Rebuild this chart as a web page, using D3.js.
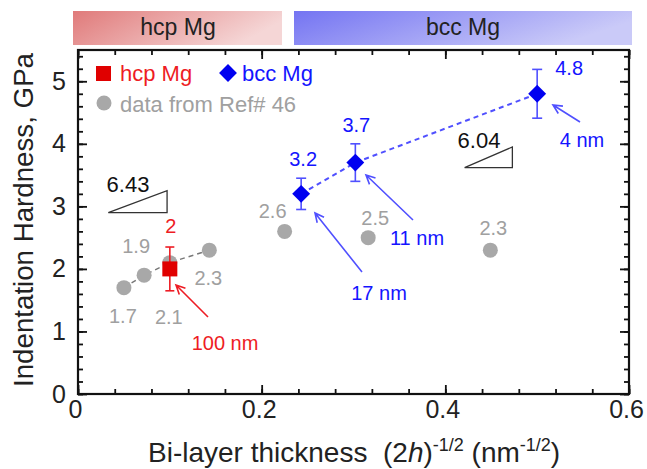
<!DOCTYPE html>
<html lang="en">
<head>
<meta charset="UTF-8">
<title>Indentation hardness vs bi-layer thickness</title>
<script src="https://cdn.jsdelivr.net/npm/d3@7/dist/d3.min.js"></script>
<style>
    body { margin: 0; background: #fff; }
    text { font-family: "Liberation Sans", Arial, sans-serif; }
</style>
</head>
<body>
<div id="chart"></div>
<script>
    // data
    const hcpX = [0.1];
    const hcpY = [2.0];
    const hcpErr = [0.35];
    const hcpLabels = ["2"];

    const bccX = [0.243, 0.302, 0.5];
    const bccY = [3.2, 3.7, 4.8];
    const bccErr = [0.25, 0.3, 0.39];
    const bccLabels = ["3.2", "3.7", "4.8"];

    const refX = [0.05, 0.072, 0.1, 0.143, 0.225, 0.316, 0.449];
    const refY = [1.7, 1.9, 2.1, 2.3, 2.6, 2.5, 2.3];
    const refLabels = ["1.7", "1.9", "2.1", "2.3", "2.6", "2.5", "2.3"];
    const refFit = [0, 1, 2, 3];   // points joined by the dashed grey line

    const xTicks = [0, 0.2, 0.4, 0.6];
    const xTickLabels = ["0", "0.2", "0.4", "0.6"];
    const yTicks = [0, 1, 2, 3, 4, 5];
    const yTickLabels = ["0", "1", "2", "3", "4", "5"];

    const slopeLabels = ["6.43", "6.04"];
    const nmLabels = ["100 nm", "17 nm", "11 nm", "4 nm"];

    // layout
    const W = 647, H = 469;
    const x = d3.scaleLinear().domain([0, 0.6]).range([78, 629]);
    const y = d3.scaleLinear().domain([0, 5.5]).range([394, 50]);

    const RED = "#e00000", RED_T = "#ee1c24";
    const BLUE = "#0000f0", BLUE_T = "#1414ff", BLUE_L = "#5050ff";
    const GREY = "#a8a8a8", GREY_T = "#a0a0a0";

    // label offsets (px) from each point: [dx, dy of baseline]
    const refOff = [[-1, 35], [-8, -22], [-1, 61], [-1, 35], [-12, -13], [7, -13], [3, -15]];
    const hcpOff = [[1, -36]];
    const bccOff = [[2, -28], [1, -31], [32, -19]];

    // slope triangles in data units
    const triangles = [
        {x0: 0.033, x1: 0.097, y0: 2.9, y1: 3.25, lx: 128, ly: 192},
        {x0: 0.421, x1: 0.473, y0: 3.62, y1: 3.95, lx: 479, ly: 148}
    ];

    // arrows: tail (near label) -> head (near point), label position, colour
    const arrows = [
        {t: [208, 317], h: [176, 285], lx: 225, ly: 350, c: RED_T, lc: RED_T},
        {t: [362, 272], h: [315, 213], lx: 379, ly: 300, c: BLUE_L, lc: BLUE_T},
        {t: [413, 220], h: [366, 175], lx: 417, ly: 245, c: BLUE_L, lc: BLUE_T},
        {t: [580, 122], h: [553, 105], lx: 582, ly: 147, c: BLUE_L, lc: BLUE_T}
    ];

    const svg = d3.select("#chart").append("svg")
        .attr("width", W).attr("height", H);

    const defs = svg.append("defs");
    function grad(id, c0, c1) {
        const g = defs.append("linearGradient").attr("id", id)
            .attr("x1", "0%").attr("y1", "0%").attr("x2", "100%").attr("y2", "30%");
        g.append("stop").attr("offset", "0%").attr("stop-color", c0);
        g.append("stop").attr("offset", "100%").attr("stop-color", c1);
    }
    grad("gRed", "#e07a7a", "#f5d6d6");
    grad("gBlue", "#7474f2", "#cacaf8");

    // phase banners
    svg.append("rect").attr("x", 73).attr("y", 11).attr("width", 209).attr("height", 34)
        .attr("fill", "url(#gRed)");
    svg.append("rect").attr("x", 294).attr("y", 11).attr("width", 338).attr("height", 34)
        .attr("fill", "url(#gBlue)");
    svg.append("text").attr("x", 178).attr("y", 35).attr("text-anchor", "middle")
        .attr("font-size", 23).attr("fill", "#222").text("hcp Mg");
    svg.append("text").attr("x", 463).attr("y", 35).attr("text-anchor", "middle")
        .attr("font-size", 23).attr("fill", "#222").text("bcc Mg");

    // axes, ticks pointing inward on all four sides
    function styleAxis(g) {
        g.select(".domain").remove();
        g.selectAll(".tick line").attr("stroke", "#111").attr("stroke-width", 1.8);
        g.selectAll(".tick text").attr("fill", "#222").attr("font-size", 25)
            .attr("font-family", "'Liberation Sans', Arial, sans-serif");
    }
    const xMinor = d3.range(0, 0.6001, 0.04);
    const yMinor = d3.range(0, 5.5001, 0.2);

    svg.append("g").attr("transform", `translate(0,${y(0)})`)
        .call(d3.axisBottom(x).tickValues(xMinor).tickSize(-5).tickFormat("")).call(styleAxis);
    svg.append("g").attr("transform", `translate(0,${y(0)})`)
        .call(d3.axisBottom(x).tickValues(xTicks).tickSize(-9).tickPadding(6)
            .tickFormat((d, i) => xTickLabels[i])).call(styleAxis)
        .selectAll(".tick text").attr("dx", -3);
    svg.append("g").attr("transform", `translate(0,${y(5.5)})`)
        .call(d3.axisTop(x).tickValues(xMinor).tickSize(-5).tickFormat("")).call(styleAxis);
    svg.append("g").attr("transform", `translate(0,${y(5.5)})`)
        .call(d3.axisTop(x).tickValues(xTicks).tickSize(-9).tickFormat("")).call(styleAxis);

    svg.append("g").attr("transform", `translate(${x(0)},0)`)
        .call(d3.axisLeft(y).tickValues(yMinor).tickSize(-5).tickFormat("")).call(styleAxis);
    svg.append("g").attr("transform", `translate(${x(0)},0)`)
        .call(d3.axisLeft(y).tickValues(yTicks).tickSize(-9).tickPadding(12)
            .tickFormat((d, i) => yTickLabels[i])).call(styleAxis);
    svg.append("g").attr("transform", `translate(${x(0.6)},0)`)
        .call(d3.axisRight(y).tickValues(yMinor).tickSize(-5).tickFormat("")).call(styleAxis);
    svg.append("g").attr("transform", `translate(${x(0.6)},0)`)
        .call(d3.axisRight(y).tickValues(yTicks).tickSize(-9).tickFormat("")).call(styleAxis);

    // frame
    svg.append("rect").attr("x", x(0)).attr("y", y(5.5))
        .attr("width", x(0.6) - x(0)).attr("height", y(0) - y(5.5))
        .attr("fill", "none").attr("stroke", "#111").attr("stroke-width", 2.2);

    // axis titles
    const xt = svg.append("text").attr("x", 148).attr("y", 462)
        .attr("font-size", 28).attr("fill", "#222");
    xt.append("tspan").text("Bi-layer thickness\u00a0\u00a0(2");
    xt.append("tspan").attr("font-style", "italic").text("h");
    xt.append("tspan").text(")");
    xt.append("tspan").attr("font-size", 18).attr("dy", -11).text("-1/2");
    xt.append("tspan").attr("dy", 11).text(" (nm");
    xt.append("tspan").attr("font-size", 18).attr("dy", -11).text("-1/2");
    xt.append("tspan").attr("dy", 11).text(")");

    svg.append("text").attr("transform", "translate(33,220) rotate(-90)")
        .attr("text-anchor", "middle").attr("font-size", 27).attr("fill", "#222")
        .attr("textLength", 334).attr("lengthAdjust", "spacingAndGlyphs")
        .text("Indentation Hardness, GPa");

    // slope triangles
    triangles.forEach((t, i) => {
        svg.append("path")
            .attr("d", `M${x(t.x0)},${y(t.y0)}L${x(t.x1)},${y(t.y1)}L${x(t.x1)},${y(t.y0)}Z`)
            .attr("fill", "#fff").attr("stroke", "#333").attr("stroke-width", 1.3);
        svg.append("text").attr("x", t.lx).attr("y", t.ly).attr("text-anchor", "middle")
            .attr("font-size", 22).attr("fill", "#111").text(slopeLabels[i]);
    });

    // dashed guide lines
    const line = d3.line().x(d => x(d[0])).y(d => y(d[1]));
    svg.append("path")
        .attr("d", line(refFit.map(i => [refX[i], refY[i]])))
        .attr("fill", "none").attr("stroke", "#777").attr("stroke-width", 1.4)
        .attr("stroke-dasharray", "5,4");
    svg.append("path")
        .attr("d", line(bccX.map((v, i) => [v, bccY[i]])))
        .attr("fill", "none").attr("stroke", BLUE_L).attr("stroke-width", 2)
        .attr("stroke-dasharray", "5,4");

    // grey reference points
    svg.append("g").selectAll("circle").data(refX).enter().append("circle")
        .attr("cx", d => x(d)).attr("cy", (d, i) => y(refY[i])).attr("r", 7.5)
        .attr("fill", GREY);
    svg.append("g").selectAll("text").data(refLabels).enter().append("text")
        .attr("x", (d, i) => x(refX[i]) + refOff[i][0])
        .attr("y", (d, i) => y(refY[i]) + refOff[i][1])
        .attr("text-anchor", "middle").attr("font-size", 20).attr("fill", GREY_T)
        .text(d => d);

    // error bars
    function errBars(xs, ys, es, color, cap) {
        const g = svg.append("g").attr("stroke", color).attr("stroke-width", 1.6);
        xs.forEach((v, i) => {
            const cx = x(v), top = y(ys[i] + es[i]), bot = y(ys[i] - es[i]);
            g.append("line").attr("x1", cx).attr("x2", cx).attr("y1", top).attr("y2", bot);
            g.append("line").attr("x1", cx - cap).attr("x2", cx + cap).attr("y1", top).attr("y2", top);
            g.append("line").attr("x1", cx - cap).attr("x2", cx + cap).attr("y1", bot).attr("y2", bot);
        });
    }
    errBars(hcpX, hcpY, hcpErr, RED_T, 4.5);
    errBars(bccX, bccY, bccErr, BLUE_L, 5);

    // hcp squares
    svg.append("g").selectAll("rect").data(hcpX).enter().append("rect")
        .attr("x", d => x(d) - 7.5).attr("y", (d, i) => y(hcpY[i]) - 7.5)
        .attr("width", 15).attr("height", 15).attr("fill", RED);
    svg.append("g").selectAll("text").data(hcpLabels).enter().append("text")
        .attr("x", (d, i) => x(hcpX[i]) + hcpOff[i][0])
        .attr("y", (d, i) => y(hcpY[i]) + hcpOff[i][1])
        .attr("text-anchor", "middle").attr("font-size", 20).attr("fill", RED_T)
        .text(d => d);

    // bcc diamonds
    const diamond = d3.symbol().type(d3.symbolSquare).size(160);
    svg.append("g").selectAll("path").data(bccX).enter().append("path")
        .attr("d", diamond)
        .attr("transform", (d, i) => `translate(${x(d)},${y(bccY[i])}) rotate(45)`)
        .attr("fill", BLUE);
    svg.append("g").selectAll("text").data(bccLabels).enter().append("text")
        .attr("x", (d, i) => x(bccX[i]) + bccOff[i][0])
        .attr("y", (d, i) => y(bccY[i]) + bccOff[i][1])
        .attr("text-anchor", "middle").attr("font-size", 20).attr("fill", BLUE_T)
        .text(d => d);

    // arrows to thickness labels
    arrows.forEach((a, i) => {
        const ang = Math.atan2(a.h[1] - a.t[1], a.h[0] - a.t[0]);
        const hl = 10, spread = 0.45;
        const p1 = [a.h[0] - hl * Math.cos(ang - spread), a.h[1] - hl * Math.sin(ang - spread)];
        const p2 = [a.h[0] - hl * Math.cos(ang + spread), a.h[1] - hl * Math.sin(ang + spread)];
        svg.append("path")
            .attr("d", `M${a.t[0]},${a.t[1]}L${a.h[0]},${a.h[1]}M${p1[0]},${p1[1]}L${a.h[0]},${a.h[1]}L${p2[0]},${p2[1]}`)
            .attr("fill", "none").attr("stroke", a.c).attr("stroke-width", 1.6);
        svg.append("text").attr("x", a.lx).attr("y", a.ly).attr("text-anchor", "middle")
            .attr("font-size", 20).attr("fill", a.lc).text(nmLabels[i]);
    });

    // legend
    const lg = svg.append("g");
    lg.append("rect").attr("x", 96).attr("y", 66).attr("width", 15).attr("height", 15).attr("fill", RED);
    lg.append("text").attr("x", 120).attr("y", 81).attr("font-size", 22).attr("fill", RED_T).text("hcp Mg");
    lg.append("path").attr("d", diamond).attr("transform", "translate(228,73) rotate(45)").attr("fill", BLUE);
    lg.append("text").attr("x", 242).attr("y", 81).attr("font-size", 22).attr("fill", BLUE_T).text("bcc Mg");
    lg.append("circle").attr("cx", 104).attr("cy", 103).attr("r", 7.5).attr("fill", GREY);
    lg.append("text").attr("x", 120).attr("y", 112).attr("font-size", 22).attr("fill", GREY_T).text("data from Ref# 46");
</script>
</body>
</html>
